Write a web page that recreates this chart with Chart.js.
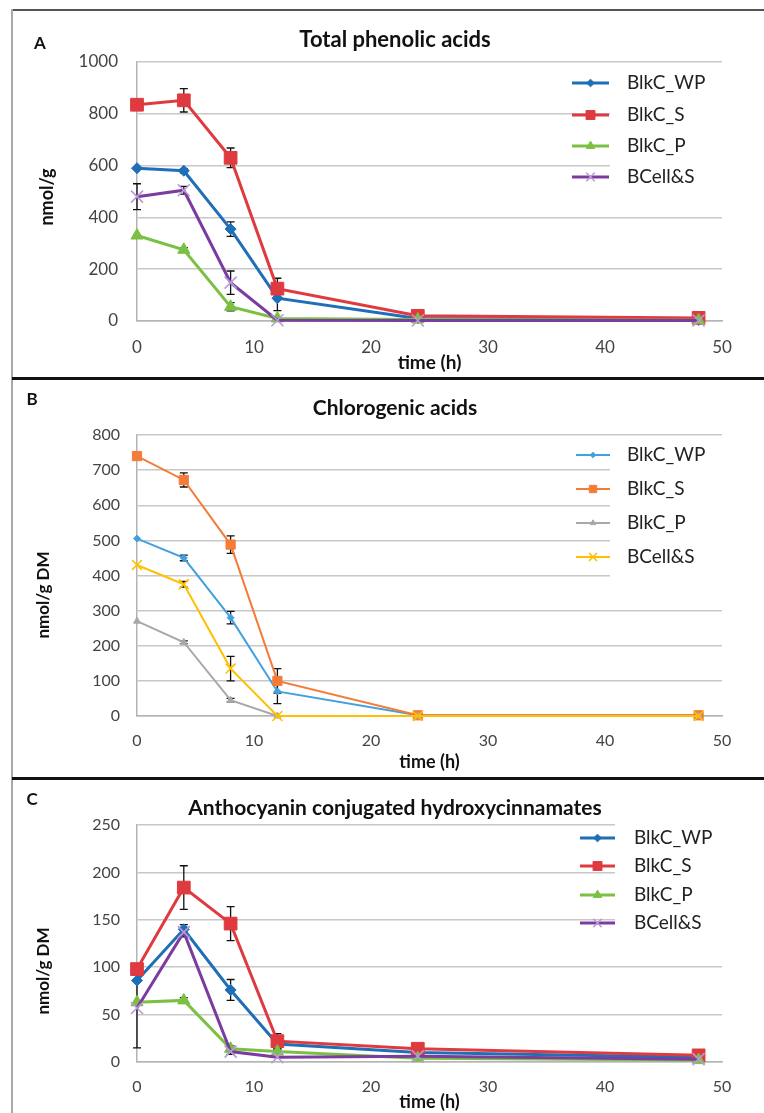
<!DOCTYPE html>
<html>
<head>
<meta charset="utf-8">
<script src="https://cdn.jsdelivr.net/npm/chart.js@4.4.1/dist/chart.umd.min.js"></script>
<style>
    body { margin: 0; background: #ffffff; }
    #figure { position: relative; width: 764px; height: 1113px; overflow: hidden; background: #ffffff; }
    .rule { position: absolute; }
    canvas { position: absolute; }
</style>
</head>
<body>
<div id="figure">
    <div class="rule" style="left:12px; top:9px; width:752px; height:2px; background:#555;"></div>
    <div class="rule" style="left:11px; top:9px; width:2px; height:1104px; background:#a8a8a8;"></div>
    <div class="rule" style="left:12px; top:377px; width:752px; height:3px; background:#111;"></div>
    <div class="rule" style="left:12px; top:777px; width:752px; height:3px; background:#111;"></div>
    <canvas id="chart-a" width="750" height="365" style="left:14px; top:12px;"></canvas>
    <canvas id="chart-b" width="750" height="397" style="left:14px; top:380px;"></canvas>
    <canvas id="chart-c" width="750" height="333" style="left:14px; top:780px;"></canvas>
</div>
<script>
// sampling times (h) and series names, shared by the three panels
const times = [0, 4, 8, 12, 24, 48];
const seriesNames = ['BlkC_WP', 'BlkC_S', 'BlkC_P', 'BCell&S'];
const xTicks = [0, 10, 20, 30, 40, 50];

// A - total phenolic acids (nmol/g)
const yTicksA = [0, 200, 400, 600, 800, 1000];
const wpA = [590, 580, 355, 88, 10, 4];
const sA = [835, 852, 630, 125, 20, 12];
const pA = [330, 275, 55, 10, 6, 3];
const cellA = [480, 505, 148, 3, 2, 2];
const wpErrA = [0, 8, 28, 48, 0, 0];
const sErrA = [0, 45, 38, 40, 0, 0];
const pErrA = [0, 8, 16, 0, 0, 0];
const cellErrA = [50, 15, 45, 0, 0, 0];

// B - chlorogenic acids (nmol/g DM)
const yTicksB = [0, 100, 200, 300, 400, 500, 600, 700, 800];
const wpB = [505, 450, 280, 70, 2, 2];
const sB = [740, 672, 488, 100, 2, 2];
const pB = [270, 210, 45, 0, 0, 0];
const cellB = [430, 375, 135, 0, 0, 0];
const wpErrB = [0, 8, 18, 35, 0, 0];
const sErrB = [0, 20, 25, 35, 0, 0];
const pErrB = [0, 4, 5, 0, 0, 0];
const cellErrB = [0, 8, 35, 0, 0, 0];

// C - anthocyanin conjugated hydroxycinnamates (nmol/g DM)
const yTicksC = [0, 50, 100, 150, 200, 250];
const wpC = [86, 140, 76, 19, 10, 5];
const sC = [98, 184, 146, 22, 14, 7];
const pC = [63, 65, 14, 11, 4, 2];
const cellC = [57, 137, 11, 5, 6, 3];
const wpErrC = [0, 5, 11, 4, 0, 0];
const sErrC = [0, 23, 18, 8, 0, 0];
const pErrC = [0, 3, 3, 2, 0, 0];
const cellErrC = [42, 5, 3, 0, 0, 0];

const FONT = 'Lato, "Open Sans", sans-serif';
const pointStyles = ['rectRot', 'rect', 'triangle', 'crossRot'];

Chart.defaults.font.family = FONT;

// Draws vertical error bars (under the lines) using the y scale of the chart
const errorBars = {
    id: 'errorBars',
    beforeDatasetsDraw(chart) {
        const ctx = chart.ctx;
        const yScale = chart.scales.y;
        ctx.save();
        ctx.strokeStyle = '#111111';
        ctx.lineWidth = 1.3;
        chart.data.datasets.forEach((dataset, i) => {
            if (!dataset.errors) return;
            const meta = chart.getDatasetMeta(i);
            meta.data.forEach((point, j) => {
                const err = dataset.errors[j];
                if (!err) return;
                const value = dataset.data[j].y;
                const top = yScale.getPixelForValue(value + err);
                const bottom = yScale.getPixelForValue(Math.max(value - err, 0));
                ctx.beginPath();
                ctx.moveTo(point.x, top);
                ctx.lineTo(point.x, bottom);
                ctx.moveTo(point.x - 4, top);
                ctx.lineTo(point.x + 4, top);
                ctx.moveTo(point.x - 4, bottom);
                ctx.lineTo(point.x + 4, bottom);
                ctx.stroke();
            });
        });
        ctx.restore();
    }
};

// Panel letter, title, rotated y title and the legend box inside the plot
const panelDecor = {
    id: 'panelDecor',
    afterDraw(chart, args, opts) {
        const ctx = chart.ctx;
        ctx.save();
        ctx.textBaseline = 'middle';

        ctx.fillStyle = '#111111';
        ctx.textAlign = 'center';
        ctx.font = `bold 17px ${FONT}`;
        ctx.fillText(opts.letter, opts.letterPos[0], opts.letterPos[1]);

        ctx.font = `bold ${opts.titleSize}px ${FONT}`;
        ctx.fillText(opts.title, opts.titlePos[0], opts.titlePos[1]);

        ctx.save();
        ctx.translate(opts.yTitlePos[0], opts.yTitlePos[1]);
        ctx.rotate(-Math.PI / 2);
        ctx.font = `bold ${opts.yTitleSize}px ${FONT}`;
        ctx.fillText(opts.yTitle, 0, 0);
        ctx.restore();

        const lg = opts.legend;
        ctx.fillStyle = '#ffffff';
        ctx.fillRect(lg.box[0], lg.box[1], lg.box[2], lg.box[3]);
        ctx.textAlign = 'left';
        ctx.font = `${lg.fontSize}px ${FONT}`;
        chart.data.datasets.forEach((dataset, i) => {
            const y = lg.rows[i];
            ctx.strokeStyle = dataset.borderColor;
            ctx.lineWidth = dataset.borderWidth;
            ctx.beginPath();
            ctx.moveTo(lg.x0, y);
            ctx.lineTo(lg.x1, y);
            ctx.stroke();
            ctx.fillStyle = dataset.pointBackgroundColor;
            ctx.strokeStyle = dataset.pointBorderColor;
            ctx.lineWidth = dataset.pointBorderWidth;
            Chart.helpers.drawPoint(ctx, {
                pointStyle: dataset.pointStyle,
                radius: dataset.pointRadius * lg.markerScale,
                borderWidth: dataset.pointBorderWidth,
                rotation: 0
            }, (lg.x0 + lg.x1) / 2, y);
            ctx.fillStyle = '#222222';
            ctx.fillText(dataset.label, lg.textX, y);
        });
        ctx.restore();
    }
};

const renderPanel = (canvasId, panel) => {
    const ctx = document.getElementById(canvasId).getContext('2d');
    const style = panel.style;

    const datasets = panel.series.map((values, i) => ({
        label: seriesNames[i],
        data: times.map((t, j) => ({ x: t, y: values[j] })),
        errors: panel.errors[i],
        borderColor: style.colors[i],
        backgroundColor: style.colors[i],
        pointBackgroundColor: style.colors[i],
        pointBorderColor: i === 3 ? style.crossColor : style.colors[i],
        pointBorderWidth: i === 3 ? 1.6 : 1,
        pointStyle: pointStyles[i],
        pointRadius: style.radii[i],
        borderWidth: style.lineWidth,
        tension: 0,
        clip: false,
        order: 3 - i
    }));

    return new Chart(ctx, {
        type: 'line',
        data: { datasets },
        options: {
            responsive: false,
            animation: false,
            devicePixelRatio: 1,
            layout: {
                padding: { left: 0, right: 42, top: panel.padTop, bottom: panel.padBottom }
            },
            scales: {
                x: {
                    type: 'linear',
                    min: xTicks[0],
                    max: xTicks[xTicks.length - 1],
                    ticks: {
                        stepSize: xTicks[1] - xTicks[0],
                        padding: panel.xTickPad,
                        color: '#444444',
                        font: { size: panel.tickSize },
                        callback: (value) => String(value)
                    },
                    grid: { display: false, drawTicks: false },
                    border: { display: true, color: '#b4b4b4', width: 1.5 },
                    title: {
                        display: true,
                        text: 'time (h)',
                        color: '#111111',
                        padding: 0,
                        font: { size: panel.xTitleSize, weight: 'bold' }
                    },
                    afterFit: (scale) => { scale.height = panel.xAxisHeight; }
                },
                y: {
                    min: panel.yTicks[0],
                    max: panel.yTicks[panel.yTicks.length - 1],
                    ticks: {
                        stepSize: panel.yTicks[1] - panel.yTicks[0],
                        padding: panel.yTickPad,
                        color: '#444444',
                        font: { size: panel.tickSize },
                        callback: (value) => String(value)
                    },
                    grid: { color: '#c8c8c8', lineWidth: 1.5, drawTicks: false },
                    border: { display: true, color: '#b4b4b4', width: 1.5 },
                    afterFit: (scale) => { scale.width = 123; }
                }
            },
            plugins: {
                legend: { display: false },
                tooltip: { enabled: false },
                panelDecor: panel.decor
            }
        },
        plugins: [errorBars, panelDecor]
    });
};

document.addEventListener('DOMContentLoaded', () => {
    const boldStyle = {
        colors: ['#1f6fb8', '#de3a3f', '#7cc043', '#7a3c9e'],
        crossColor: '#b79ad8',
        radii: [5.5, 9, 7, 8.5],
        lineWidth: 3
    };
    const lightStyle = {
        colors: ['#40a0e0', '#f47c38', '#a8a8a8', '#ffc000'],
        crossColor: '#ffc000',
        radii: [3.5, 6.5, 4, 7],
        lineWidth: 2
    };

    renderPanel('chart-a', {
        series: [wpA, sA, pA, cellA],
        errors: [wpErrA, sErrA, pErrA, cellErrA],
        yTicks: yTicksA,
        style: boldStyle,
        padTop: 50, padBottom: 3, xAxisHeight: 53,
        tickSize: 17, xTickPad: 16, yTickPad: 19, xTitleSize: 19,
        decor: {
            letter: 'A', letterPos: [26, 32],
            title: 'Total phenolic acids', titleSize: 22, titlePos: [381, 28],
            yTitle: 'nmol/g', yTitleSize: 18, yTitlePos: [33, 185],
            legend: {
                box: [596, 58, 112, 130], rows: [71, 103, 134, 165],
                x0: 558, x1: 595, textX: 613, fontSize: 19, markerScale: 0.7
            }
        }
    });

    renderPanel('chart-b', {
        series: [wpB, sB, pB, cellB],
        errors: [wpErrB, sErrB, pErrB, cellErrB],
        yTicks: yTicksB,
        style: lightStyle,
        padTop: 55, padBottom: 4, xAxisHeight: 57,
        tickSize: 16, xTickPad: 15, yTickPad: 17, xTitleSize: 18,
        decor: {
            letter: 'B', letterPos: [18, 20],
            title: 'Chlorogenic acids', titleSize: 21, titlePos: [381, 28],
            yTitle: 'nmol/g DM', yTitleSize: 17, yTitlePos: [30, 215],
            legend: {
                box: [596, 65, 112, 150], rows: [75, 109, 143, 177],
                x0: 562, x1: 596, textX: 613, fontSize: 19, markerScale: 0.8
            }
        }
    });

    renderPanel('chart-c', {
        series: [wpC, sC, pC, cellC],
        errors: [wpErrC, sErrC, pErrC, cellErrC],
        yTicks: yTicksC,
        style: boldStyle,
        padTop: 45, padBottom: 0, xAxisHeight: 51,
        tickSize: 16, xTickPad: 15, yTickPad: 17, xTitleSize: 18,
        decor: {
            letter: 'C', letterPos: [18, 20],
            title: 'Anthocyanin conjugated hydroxycinnamates', titleSize: 21, titlePos: [381, 28],
            yTitle: 'nmol/g DM', yTitleSize: 17, yTitlePos: [30, 191],
            legend: {
                box: [601, 35, 107, 125], rows: [58, 86, 115, 143],
                x0: 566, x1: 601, textX: 620, fontSize: 19, markerScale: 0.7
            }
        }
    });
});
</script>
</body>
</html>
